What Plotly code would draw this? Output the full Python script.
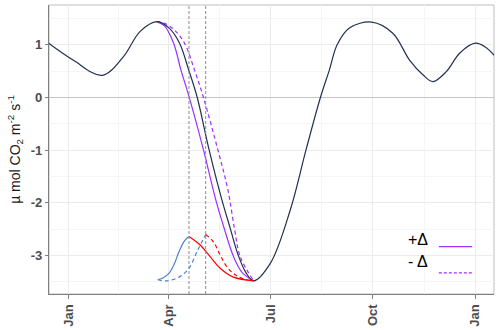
import plotly.graph_objects as go

# baseline flux curve
base_dates = ["2018-12-14", "2019-01-05", "2019-01-31", "2019-02-19", "2019-03-06", "2019-03-21",
              "2019-04-01", "2019-04-10 13:00", "2019-04-18 08:00", "2019-04-26 10:00", "2019-05-06 14:00",
              "2019-05-18", "2019-05-26", "2019-06-02", "2019-06-09", "2019-06-16", "2019-07-01",
              "2019-07-19", "2019-08-02", "2019-08-15", "2019-08-23", "2019-08-30", "2019-09-10",
              "2019-09-30", "2019-10-19", "2019-11-03", "2019-11-15", "2019-11-24", "2019-12-06",
              "2019-12-18", "2020-01-01", "2020-01-10", "2020-01-18"]
base_vals = [1.03, 0.71, 0.42, 0.77, 1.25, 1.44,
             1.32, 1.03, 0.55, 0.0, -0.95,
             -1.9, -2.48, -2.98, -3.32, -3.48, -3.15,
             -2.13, -1.0, 0.0, 0.52, 1.0, 1.32,
             1.43, 1.22, 0.71, 0.43, 0.30, 0.49,
             0.84, 1.03, 0.96, 0.80]

# +delta (solid purple)
plus_dates = ["2019-03-21", "2019-03-28", "2019-04-05 05:00", "2019-04-11 19:00", "2019-04-18 14:00",
              "2019-05-02 02:00", "2019-05-13", "2019-05-21", "2019-05-29", "2019-06-06", "2019-06-16"]
plus_vals = [1.44, 1.36, 1.03, 0.52, 0.05, -1.0, -1.94, -2.51, -3.02, -3.33, -3.48]

# -delta (dashed purple)
minus_dates = ["2019-03-21", "2019-03-28", "2019-04-06", "2019-04-15", "2019-04-24", "2019-05-02",
               "2019-05-15", "2019-05-24", "2019-05-30", "2019-06-04", "2019-06-16"]
minus_vals = [1.44, 1.41, 1.28, 1.03, 0.52, 0.0, -1.0, -1.76, -2.51, -3.02, -3.48]

# pulse shapes
blue_dates = ["2019-03-22", "2019-03-27", "2019-04-01", "2019-04-06", "2019-04-10", "2019-04-15",
              "2019-04-19"]
blue_vals = [-3.46, -3.42, -3.34, -3.15, -2.93, -2.72, -2.64]
red_dates = ["2019-04-19", "2019-04-29", "2019-05-08", "2019-05-17", "2019-05-29", "2019-06-16"]
red_vals = [-2.64, -2.80, -3.02, -3.24, -3.41, -3.48]

blue_d_dates = ["2019-03-22", "2019-03-30", "2019-04-10", "2019-04-19", "2019-04-27", "2019-05-04"]
blue_d_vals = [-3.46, -3.48, -3.41, -3.24, -2.89, -2.60]
red_d_dates = ["2019-05-04", "2019-05-11", "2019-05-17", "2019-05-24", "2019-06-03", "2019-06-16"]
red_d_vals = [-2.60, -2.74, -2.99, -3.24, -3.41, -3.48]

vlines = ["2019-04-19", "2019-05-04"]

tick_dates = ["2019-01-01", "2019-04-01", "2019-07-01", "2019-10-01", "2020-01-01"]
tick_labels = ["Jan", "Apr", "Jul", "Oct", "Jan"]
minor_dates = ["2019-02-15", "2019-05-16", "2019-08-16", "2019-11-16"]
y_ticks = [-3, -2, -1, 0, 1]
y_labels = ["-3", "-2", "-1", "0", "1"]

navy = "#22304f"
purple = "#9b30ff"
blue = "#4f7fcf"
red = "#ff0000"
dash = "4px,3px"

fig = go.Figure()

def add_line(x, y, color, dashed=False):
    fig.add_trace(go.Scatter(
        x=x, y=y, mode="lines",
        line=dict(color=color, width=1.2, shape="spline", dash=dash if dashed else "solid"),
        showlegend=False, hoverinfo="skip"))

add_line(minus_dates, minus_vals, purple, True)
add_line(plus_dates, plus_vals, purple)
add_line(base_dates, base_vals, navy)
add_line(blue_dates, blue_vals, blue)
add_line(red_dates, red_vals, red)
add_line(blue_d_dates, blue_d_vals, blue, True)
add_line(red_d_dates, red_d_vals, red, True)

for d in vlines:
    fig.add_vline(x=d, line=dict(color="#8a8a8a", width=1, dash="3px,2px"))

# panel border (top/right lighter)
fig.add_shape(type="rect", xref="paper", yref="paper", x0=0, y0=0, x1=1, y1=1,
              line=dict(color="#bdbdbd", width=1), layer="below")

# legend drawn manually: text on the left, key on the right
fig.add_annotation(xref="paper", yref="paper", x=0.856, y=0.152, text="+Δ", showarrow=False,
                   xanchor="right", font=dict(size=16, color="black"))
fig.add_annotation(xref="paper", yref="paper", x=0.856, y=0.077, text="- Δ", showarrow=False,
                   xanchor="right", font=dict(size=16, color="black"))
fig.add_shape(type="line", xref="paper", yref="paper", x0=0.876, x1=0.951, y0=0.164, y1=0.164,
              line=dict(color=purple, width=1.2))
fig.add_shape(type="line", xref="paper", yref="paper", x0=0.876, x1=0.951, y0=0.073, y1=0.073,
              line=dict(color=purple, width=1.2, dash="3px,2px"))

fig.update_layout(
    width=500, height=330,
    margin=dict(l=49, r=6, t=5, b=36),
    plot_bgcolor="white", paper_bgcolor="white",
    font=dict(family="Liberation Sans, Arial", color="#4d4d4d"),
    showlegend=False,
)

fig.update_xaxes(
    range=["2018-12-14 08:00", "2020-01-17 20:00"],
    tickvals=tick_dates, ticktext=tick_labels, tickangle=-90,
    tickfont=dict(size=13, color="#4d4d4d", family="Liberation Sans, Arial", weight="bold"),
    ticks="outside", ticklen=4, tickcolor="#7f7f7f",
    showgrid=True, gridcolor="#ebebeb", gridwidth=1,
    minor=dict(tickvals=minor_dates, showgrid=True, gridcolor="#f5f5f5", gridwidth=1),
    showline=True, linecolor="#7f7f7f", linewidth=1.3,
    zeroline=False, automargin=False,
)
fig.update_yaxes(
    range=[-3.73, 1.755],
    tickvals=y_ticks, ticktext=y_labels,
    tickfont=dict(size=13, color="#4d4d4d", family="Liberation Sans, Arial", weight="bold"),
    ticks="outside", ticklen=3, tickcolor="#7f7f7f",
    showgrid=True, gridcolor="#ebebeb", gridwidth=1,
    minor=dict(dtick=0.5, tick0=0.5, showgrid=True, gridcolor="#f5f5f5", gridwidth=1),
    zeroline=True, zerolinecolor="#c4c4c4", zerolinewidth=1.2,
    showline=True, linecolor="#7f7f7f", linewidth=1.3,
    automargin=False,
    title=dict(text="µ mol CO<sub>2</sub> m<sup>-2</sup> s<sup>-1</sup>", standoff=6,
               font=dict(size=14, color="#1a1a1a")),
)

# page body has a default margin; drop it so the figure fills the window
fig.write_html("out.html", config={"displayModeBar": False},
               post_script="document.body.style.margin='0';")
